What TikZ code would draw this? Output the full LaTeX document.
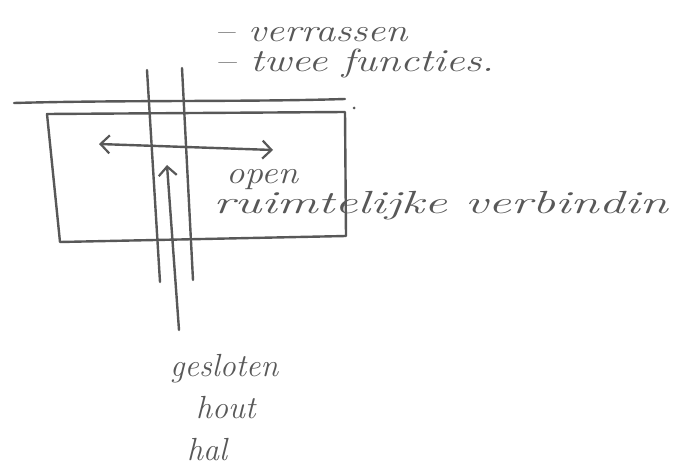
\documentclass[tikz,border=0pt]{standalone}
\usepackage{tikz}
\usetikzlibrary{arrows.meta, positioning}

\definecolor{pencil}{RGB}{88,88,88}

\begin{document}
\begin{tikzpicture}[
  x=1pt, y=-1pt,
  stroke/.style={draw=pencil, line width=2.4pt, line cap=round, line join=round},
  arr/.style={stroke, -{Straight Barb[length=9pt, width=18pt, line width=2.2pt]}},
  dbl/.style={stroke, {Straight Barb[length=9pt, width=18pt, line width=2.2pt]}-{Straight Barb[length=9pt, width=18pt, line width=2.2pt]}},
  note/.style={text=pencil, anchor=base west, inner sep=0pt,
               font=\fontsize{32}{36}\selectfont\itshape}
]
  \useasboundingbox (0,0) rectangle (691,473);

  % ground line and building block
  \draw[stroke] (14,103) .. controls (120,100) and (250,102) .. (345,99);
  \fill[pencil] (354,108) circle (1.5pt);
  \draw[stroke] (47,114) -- (345,112) -- (346,236) -- (60,242) -- cycle;

  % walls of the hall
  \coordinate (wl1) at (147,70);  \coordinate (wl2) at (160,282);
  \coordinate (wr1) at (182,68);  \coordinate (wr2) at (193,280);
  \draw[stroke] (wl1) -- (wl2);
  \draw[stroke] (wr1) -- (wr2);

  % arrows
  \coordinate (hl) at (99,144);   \coordinate (hr) at (273,150);
  \coordinate (up1) at (179,330); \coordinate (up2) at (167,165);
  \draw[dbl] (hl) -- (hr);
  \draw[arr] (up1) -- (up2);

  % notes
  \node[note, xscale=1.25] (verr) at (214,42) {-- verrassen};
  \node[note, xscale=1.32] (twee) at (214,72) {-- twee functies.};
  \node[note, xscale=1.15] (open) at (226,184) {open};
  \node[note, xscale=1.6] (ruim) at (213,214) {ruimtelijke verbindin};
  \node[note] (geslo) at (170,376) {gesloten};
  \node[note] (hout) at (196,418) {hout};
  \node[note] (hal) at (187,460) {hal};
\end{tikzpicture}
\end{document}
